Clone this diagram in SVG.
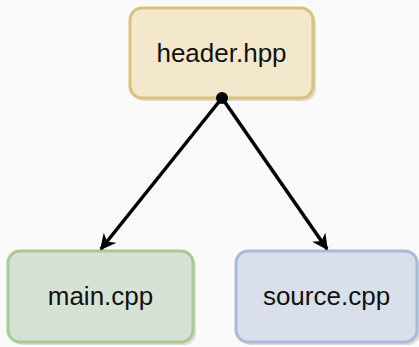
<svg xmlns="http://www.w3.org/2000/svg" width="419" height="347" viewBox="0 0 419 347">
<defs>
<style>
.shadow{fill:#000;opacity:0.12}
.box{stroke-width:3}
.lbl{font-family:"Liberation Sans",Arial,sans-serif;font-size:26px;fill:#111;text-anchor:middle}
.edge{stroke:#000;stroke-width:3.5;fill:none}
</style>
<marker id="arr" viewBox="0 0 10 10" refX="9" refY="5" markerWidth="17" markerHeight="16" markerUnits="userSpaceOnUse" orient="auto">
<path d="M0,0 L10,5 L0,10 L3,5 Z" fill="#000"/>
</marker>
</defs>
<rect width="419" height="347" fill="#fafafa"/>
<g id="header">
<rect class="shadow" x="133" y="11" width="183" height="90" rx="12"/>
<rect class="box" x="130" y="8" width="183" height="90" rx="12" fill="#f3e8cb" stroke="#d9c27a"/>
<text class="lbl" x="221.5" y="62">header.hpp</text>
</g>
<g id="main">
<rect class="shadow" x="11" y="254" width="185" height="91" rx="12"/>
<rect class="box" x="8" y="251" width="185" height="91" rx="12" fill="#d6e3d4" stroke="#a7cb90"/>
<text class="lbl" x="100.5" y="305">main.cpp</text>
</g>
<g id="source">
<rect class="shadow" x="239" y="254" width="181" height="91" rx="12"/>
<rect class="box" x="236" y="251" width="181" height="91" rx="12" fill="#d9e0ec" stroke="#a7bcda"/>
<text class="lbl" x="326.5" y="305">source.cpp</text>
</g>
<g id="connectors">
<circle cx="222" cy="98" r="6" fill="#000"/>
<line class="edge" x1="222" y1="98" x2="101" y2="249" marker-end="url(#arr)"/>
<line class="edge" x1="222" y1="98" x2="327" y2="249" marker-end="url(#arr)"/>
</g>
</svg>
